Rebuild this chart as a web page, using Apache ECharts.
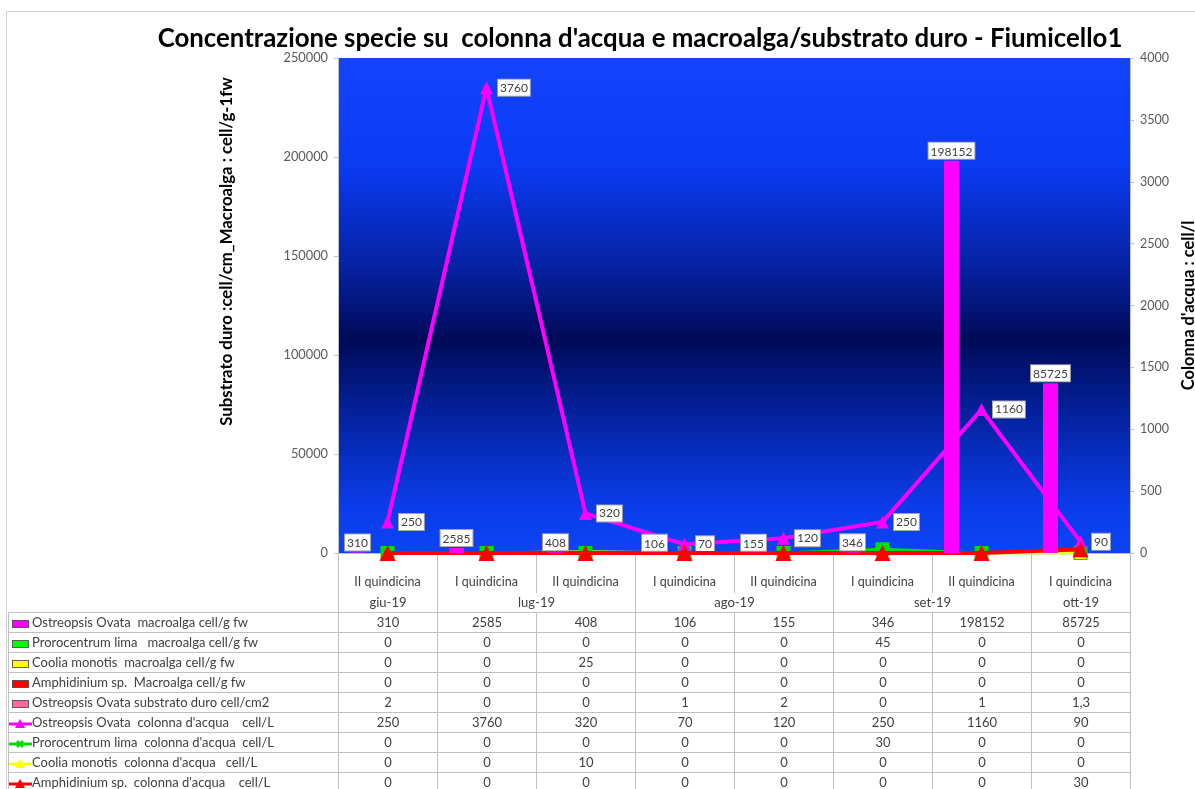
<!DOCTYPE html>
<html>
<head>
<meta charset="utf-8">
<script src="https://cdn.jsdelivr.net/npm/echarts@6/dist/echarts.min.js"></script>
<style>
  html, body { margin: 0; padding: 0; background: #fff; }
  #wrap { position: relative; width: 1195px; height: 789px; overflow: hidden; font-family: Lato, "Open Sans", sans-serif; }
  #frame { position: absolute; left: 6px; top: 11px; width: 1300px; height: 900px; border-left: 1px solid #d0d0d0; border-top: 1px solid #d0d0d0; }
  #chart { position: absolute; left: 0; top: 0; width: 1195px; height: 789px; }
  #tbl { position: absolute; left: 8px; top: 593px; border-collapse: collapse; table-layout: fixed; font-size: 13px; color: #404040; }
  #tbl td { height: 19px; padding: 0; border: 1px solid #c0c0c0; text-align: center; white-space: nowrap; overflow: hidden; line-height: 19px; }
  #tbl td.lab { text-align: left; padding-left: 3px; }
  #tbl td.blank { border: none; border-bottom: 1px solid #c0c0c0; border-right: 1px solid #c0c0c0; }
  #tbl td.mon { border-top: none; }
  .key { display: inline-block; vertical-align: middle; margin-right: 2px; }
</style>
</head>
<body>
<div id="wrap">
  <div id="frame"></div>
  <div id="chart"></div>
  <table id="tbl"></table>
</div>
<script>
// ---- data ----
const quindicine = ['II quindicina','I quindicina','II quindicina','I quindicina','II quindicina','I quindicina','II quindicina','I quindicina'];
const months = ['giu-19','lug-19','lug-19','ago-19','ago-19','set-19','set-19','ott-19'];

const ostreopsisMacroalga = [310, 2585, 408, 106, 155, 346, 198152, 85725];
const prorocentrumMacroalga = [0, 0, 0, 0, 0, 45, 0, 0];
const cooliaMacroalga = [0, 0, 25, 0, 0, 0, 0, 0];
const amphidiniumMacroalga = [0, 0, 0, 0, 0, 0, 0, 0];
const ostreopsisSubstrato = [2, 0, 0, 1, 2, 0, 1, 1.3];
const ostreopsisColonna = [250, 3760, 320, 70, 120, 250, 1160, 90];
const prorocentrumColonna = [0, 0, 0, 0, 0, 30, 0, 0];
const cooliaColonna = [0, 0, 10, 0, 0, 0, 0, 0];
const amphidiniumColonna = [0, 0, 0, 0, 0, 0, 0, 30];

const leftTicks = [0, 50000, 100000, 150000, 200000, 250000];
const rightTicks = [0, 500, 1000, 1500, 2000, 2500, 3000, 3500, 4000];

const seriesNames = [
  'Ostreopsis Ovata  macroalga cell/g fw',
  'Prorocentrum lima   macroalga cell/g fw',
  'Coolia monotis  macroalga cell/g fw',
  'Amphidinium sp.  Macroalga cell/g fw',
  'Ostreopsis Ovata substrato duro cell/cm2',
  'Ostreopsis Ovata  colonna d\'acqua    cell/L',
  'Prorocentrum lima  colonna d\'acqua  cell/L',
  'Coolia monotis  colonna d\'acqua   cell/L',
  'Amphidinium sp.  colonna d\'acqua    cell/L'
];
const seriesData = [ostreopsisMacroalga, prorocentrumMacroalga, cooliaMacroalga, amphidiniumMacroalga, ostreopsisSubstrato,
  ostreopsisColonna, prorocentrumColonna, cooliaColonna, amphidiniumColonna];
const seriesColors = ['#ff00ff', '#00ff00', '#ffff00', '#ff0000', '#ff6699', '#ff00ff', '#00dd00', '#ffff00', '#ff0000'];

// ---- chart ----
const chart = echarts.init(document.getElementById('chart'), null, { renderer: 'canvas' });
const boxLabel = {
  backgroundColor: '#ffffff', borderColor: '#a6a6a6', borderWidth: 1,
  padding: [3, 2, 1, 2], color: '#404040', fontSize: 12, fontFamily: 'Lato'
};
const fmt = v => String(v).replace('.', ',');

const bars = [0,1,2,3,4].map(i => ({
  name: seriesNames[i], type: 'bar', yAxisIndex: 0, barWidth: 15, barGap: '0%',
  itemStyle: { color: seriesColors[i] },
  data: seriesData[i],
  label: i === 0 ? Object.assign({ show: true, position: 'top', distance: 2, formatter: p => fmt(p.value) }, boxLabel) : { show: false },
  z: 10
}));
const lineDefs = [
  { i: 5, symbol: 'triangle', size: 13, width: 4, label: true, z: 5 },
  { i: 6, symbol: 'rect', size: 14, width: 3, z: 4 },
  { i: 7, symbol: 'triangle', size: 12, width: 3, z: 4 },
  { i: 8, symbol: 'triangle', size: 16, width: 4, z: 6 }
];
const lines = lineDefs.map(d => ({
  name: seriesNames[d.i], type: 'line', yAxisIndex: 1,
  data: seriesData[d.i], symbol: d.symbol, symbolSize: d.size, showAllSymbol: true,
  lineStyle: { color: seriesColors[d.i], width: d.width },
  itemStyle: { color: seriesColors[d.i] },
  label: d.label ? Object.assign({ show: true, position: 'right', distance: 5, formatter: p => fmt(p.value) }, boxLabel) : { show: false },
  z: d.z
}));

chart.setOption({
  animation: false,
  textStyle: { fontFamily: 'Lato' },
  title: {
    text: 'Concentrazione specie su  colonna d\'acqua e macroalga/substrato duro - Fiumicello1',
    left: 635, top: 21, textAlign: 'center',
    textStyle: { fontSize: 25.8, fontWeight: 'bold', color: '#000', fontFamily: 'Lato' }
  },
  grid: {
    left: 338, right: 65, top: 58, bottom: 236, show: true, borderWidth: 0,
    containLabel: false, outerBoundsMode: 'none',
    backgroundColor: new echarts.graphic.LinearGradient(0, 0, 0, 1, [
      { offset: 0, color: '#1444ff' },
      { offset: 0.22, color: '#0a3af2' },
      { offset: 0.42, color: '#0622a2' },
      { offset: 0.57, color: '#000a58' },
      { offset: 0.72, color: '#04229e' },
      { offset: 0.9, color: '#0a3ce8' },
      { offset: 1, color: '#0c44f5' }
    ])
  },
  xAxis: {
    type: 'category', data: quindicine, boundaryGap: true,
    axisLine: { show: true, lineStyle: { color: '#c0c0c0' } },
    axisTick: { show: true, length: 40, interval: 0, lineStyle: { color: '#c0c0c0' } },
    axisLabel: { interval: 0, margin: 22, color: '#404040', fontSize: 12.5 },
    splitLine: { show: false }
  },
  yAxis: [
    {
      type: 'value', min: leftTicks[0], max: leftTicks[leftTicks.length - 1], interval: leftTicks[1] - leftTicks[0],
      name: 'Substrato duro :cell/cm_Macroalga : cell/g-1fw', nameLocation: 'middle', nameGap: 103, nameRotate: 90,
      nameTextStyle: { fontSize: 16.8, fontWeight: 'bold', color: '#000', padding: [0, 0, 0, 108] },
      axisLine: { show: true, lineStyle: { color: '#c0c0c0' } },
      axisTick: { show: true, length: 4, lineStyle: { color: '#c0c0c0' } },
      axisLabel: { color: '#595959', fontSize: 12.8, margin: 10, formatter: v => String(v) },
      splitLine: { show: false }
    },
    {
      type: 'value', min: rightTicks[0], max: rightTicks[rightTicks.length - 1], interval: rightTicks[1] - rightTicks[0],
      position: 'right',
      name: 'Colonna d\'acqua : cell/l', nameLocation: 'middle', nameGap: 43, nameRotate: 90,
      nameTextStyle: { fontSize: 16.5, fontWeight: 'bold', color: '#000' },
      axisLine: { show: true, lineStyle: { color: '#c0c0c0' } },
      axisTick: { show: true, length: 4, lineStyle: { color: '#c0c0c0' } },
      axisLabel: { color: '#595959', fontSize: 12.5, margin: 10, formatter: v => String(v) },
      splitLine: { show: false }
    }
  ],
  series: bars.concat(lines)
});

// ---- data table ----
function keySvg(i) {
  const c = seriesColors[i];
  if (i < 5) {
    return '<svg class="key" width="18" height="10"><rect x="0.5" y="1.5" width="16" height="7" fill="' + c + '" stroke="#404040" stroke-width="0.8"/></svg>';
  }
  const d = lineDefs[i - 5];
  let m;
  if (d.symbol === 'triangle') m = '<polygon points="12,0 17,9 7,9" fill="' + c + '"/>';
  else m = '<path d="M9 2 L15 8 M15 2 L9 8" stroke="' + c + '" stroke-width="2.5"/>';
  return '<svg class="key" width="24" height="10" style="margin-left:-4px;margin-right:0"><line x1="0" y1="5" x2="24" y2="5" stroke="' + c + '" stroke-width="3"/>' + m + '</svg>';
}
const tbl = document.getElementById('tbl');
let html = '<colgroup><col style="width:330px">' + months.map(() => '<col style="width:99px">').join('') + '</colgroup>';
html += '<tr><td class="blank"></td>';
for (let j = 0; j < months.length;) {
  let k = j; while (k < months.length && months[k] === months[j]) k++;
  html += '<td class="mon" colspan="' + (k - j) + '">' + months[j] + '</td>';
  j = k;
}
html += '</tr>';
seriesData.forEach((arr, i) => {
  html += '<tr><td class="lab">' + keySvg(i) + seriesNames[i].replace(/ /g, '&nbsp;') + '</td>' +
    arr.map(v => '<td>' + fmt(v) + '</td>').join('') + '</tr>';
});
tbl.innerHTML = html;
</script>
</body>
</html>
